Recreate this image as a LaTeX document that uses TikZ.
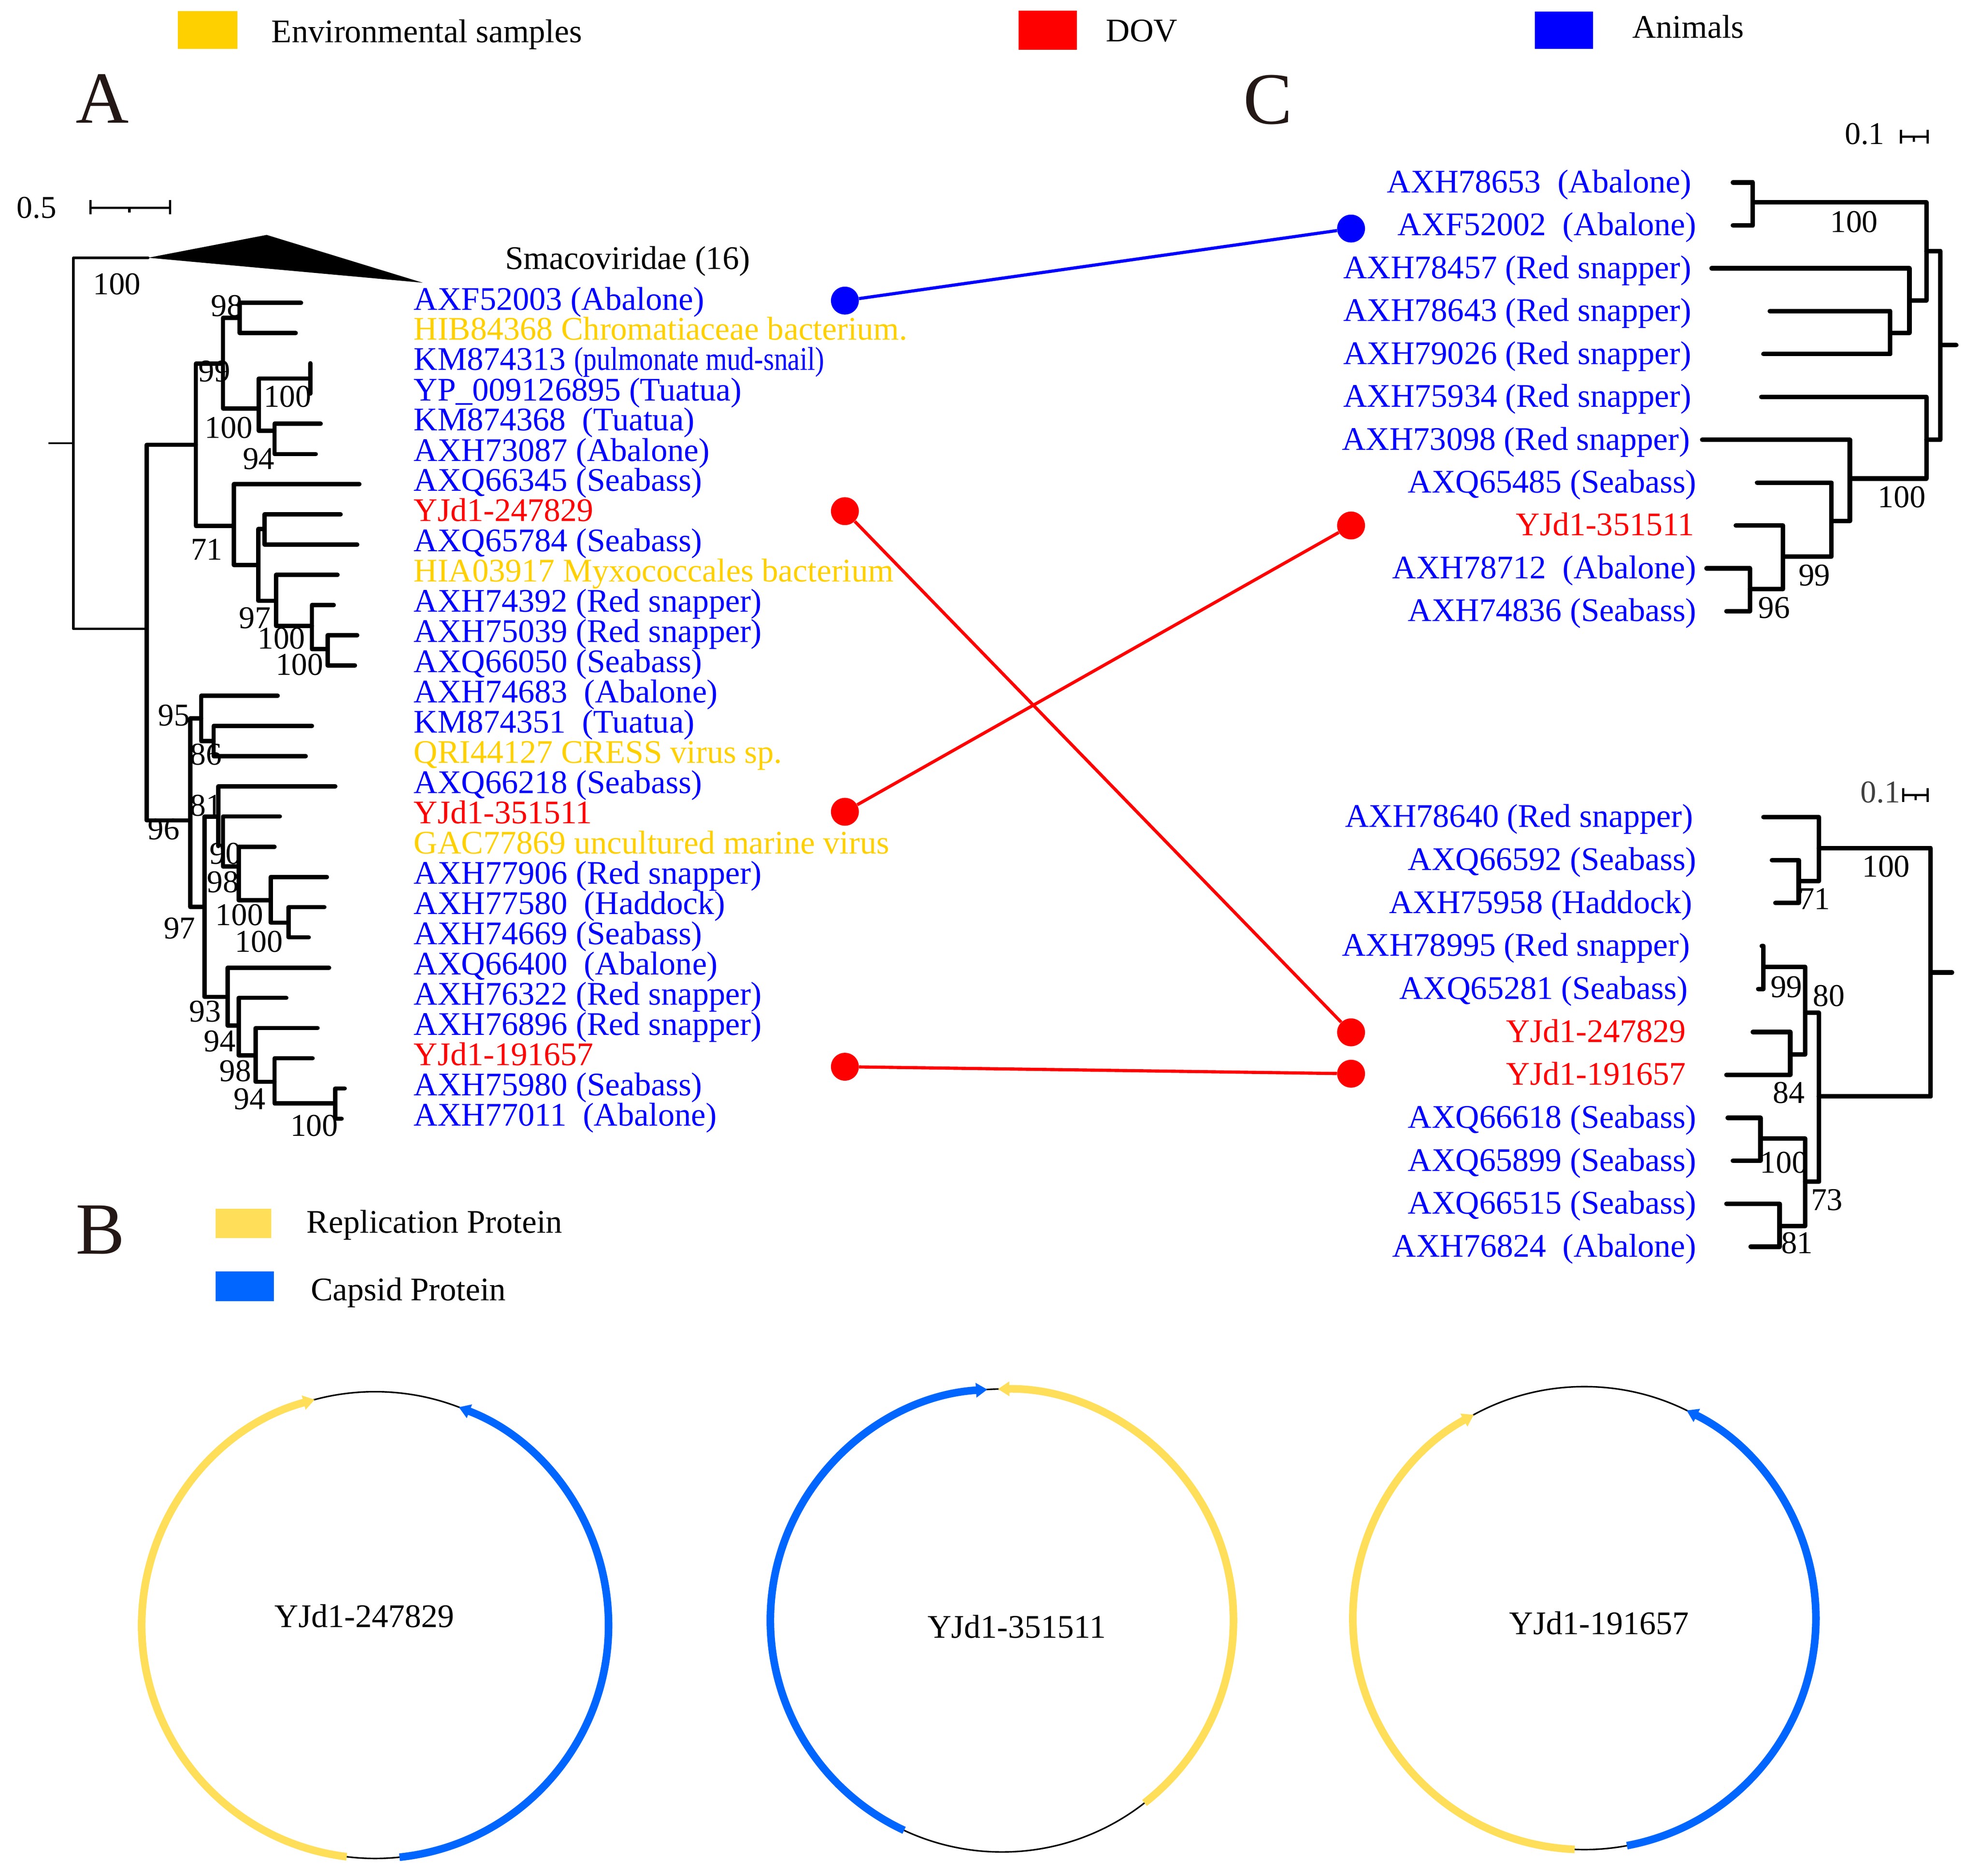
\documentclass[tikz,border=0pt]{standalone}
\usepackage{fontspec}
\setmainfont{Liberation Serif}
\usepackage{graphicx}
\usetikzlibrary{arrows.meta}
\definecolor{envy}{RGB}{255,208,0}
\definecolor{dovr}{RGB}{255,0,0}
\definecolor{anib}{RGB}{0,0,255}
\definecolor{repy}{RGB}{255,222,89}
\definecolor{capb}{RGB}{0,102,255}
\definecolor{panelc}{RGB}{35,24,21}
\begin{document}
\begin{tikzpicture}[x=1pt,y=-1pt,
  br/.style={line width=3.4pt, line cap=round, line join=round},
  brc/.style={line width=3.6pt, line cap=round, line join=round},
  brthin/.style={line width=2pt, line cap=round, line join=round},
  lab/.style={inner sep=0pt, font=\fontsize{26}{31}\selectfont},
  labA/.style={lab, anchor=base west},
  labC/.style={lab, anchor=base east},
  bs/.style={inner sep=0pt, font=\fontsize{25}{30}\selectfont, anchor=center},
  panel/.style={inner sep=0pt, anchor=base west, text=panelc, font=\fontsize{58}{64}\selectfont},
  dot/.style={circle, inner sep=0pt, minimum size=22pt, draw=none},
  link/.style={line width=2.5pt},
  gene/.style={line width=6pt},
  genearrow/.style={gene, -{Triangle[length=9pt,width=11pt]}},
  genome/.style={line width=1.2pt},
  sbar/.style={line width=1.8pt}
]
\fill[white] (0,0) rectangle (1560,1479);
\useasboundingbox (0,0) rectangle (1560,1479);

% ---------- top legend ----------
\fill[envy] (140.3,8.8) rectangle (187.1,38.5);
\node[labA] (legEnv) at (213.9,33.3) {Environmental samples};
\fill[dovr] (803,8.4) rectangle (848.7,39.4);
\node[labA] (legDov) at (871.6,32.9) {DOV};
\fill[anib] (1210,9.1) rectangle (1255.7,38.5);
\node[labA] (legAni) at (1286.5,29.8) {Animals};

% ---------- panel letters ----------
\node[panel] (pA) at (59.7,96.9) {A};
\node[panel] (pC) at (980,97.5) {C};
\node[panel] (pB) at (59.5,988.6) {B};

% ---------- tree A scale bar ----------
\node[bs] (sA) at (28.9,163.8) {0.5};
\draw[sbar] (71.3,163.8) -- (134,163.8);
\draw[sbar] (71.3,157.7) -- (71.3,168.8);
\draw[sbar] (134,157.7) -- (134,168.8);
\draw[sbar] (102,163.8) -- (102,167.5);

% ---------- tree A ----------
\draw[line width=1.5pt] (38.1,349.5) -- (57.8,349.5);
\draw[brthin] (116.8,203.2) -- (57.8,203.2) -- (57.8,495.8) -- (115.6,495.8);
\fill (116.8,203.2) -- (210.2,185.2) -- (333.2,222.9) -- cycle;
\node[lab, anchor=base west] (smaco) at (398.2,212.2) {Smacoviridae (16)};

\draw[br]
 (237.3,238.8) -- (188.9,238.8) -- (188.9,262.6) -- (233.1,262.6)
 (188.9,250.6) -- (175.8,250.6) -- (175.8,322.0) -- (204.1,322.0)
 (244.7,286.4) -- (244.7,310.3)
 (244.7,298.4) -- (204.1,298.4) -- (204.1,339.7) -- (216.4,339.7)
 (252.8,334.1) -- (216.4,334.1) -- (216.4,358.0) -- (248.9,358.0)
 (175.8,286.8) -- (154.4,286.8) -- (154.4,414.7) -- (184.4,414.7)
 (283.3,381.7) -- (184.4,381.7) -- (184.4,445.4) -- (203.6,445.4)
 (208.5,417.1) -- (203.6,417.1) -- (203.6,473.7) -- (217.6,473.7)
 (268.5,405.5) -- (208.5,405.5) -- (208.5,429.4) -- (281.6,429.4)
 (266.1,453.2) -- (217.6,453.2) -- (217.6,493.4) -- (245.9,493.4)
 (263.1,477.0) -- (245.9,477.0) -- (245.9,511.8) -- (258.2,511.8)
 (281.6,500.8) -- (258.2,500.8) -- (258.2,524.6) -- (279.8,524.6)
 (154.4,350.7) -- (115.6,350.7) -- (115.6,646.8) -- (150,646.8)
 (158.6,566.4) -- (150,566.4) -- (150,715.1) -- (161.1,715.1)
 (218.9,548.5) -- (158.6,548.5) -- (158.6,584.3) -- (168.4,584.3)
 (245.9,572.3) -- (168.4,572.3) -- (168.4,596.1) -- (241,596.1)
 (172.1,643.8) -- (161.1,643.8) -- (161.1,786.0) -- (179.5,786.0)
 (264.3,619.9) -- (172.1,619.9) -- (172.1,667)
 (220.6,643.7) -- (175.8,643.7) -- (175.8,683.2) -- (188.1,683.2)
 (216.4,667.6) -- (188.1,667.6) -- (188.1,709.7) -- (213.4,709.7)
 (257.7,691.4) -- (213.4,691.4) -- (213.4,727.4) -- (227.5,727.4)
 (255.7,715.2) -- (227.5,715.2) -- (227.5,739.0) -- (243.4,739.0)
 (259.4,762.9) -- (179.5,762.9) -- (179.5,808.6) -- (188.1,808.6)
 (225.7,786.7) -- (188.1,786.7) -- (188.1,832) -- (201.6,832)
 (250.3,810.5) -- (201.6,810.5) -- (201.6,852.9) -- (216.4,852.9)
 (246.4,834.3) -- (216.4,834.3) -- (216.4,870.0) -- (264.3,870.0)
 (271.7,858.1) -- (264.3,858.1) -- (264.3,882.0) -- (269.3,882.0);

% bootstrap A
\node[bs] (ba1) at (92.2,224.1) {100};
\node[bs] (ba2) at (178.9,241.3) {98};
\node[bs] (ba3) at (169.1,292.9) {99};
\node[bs] (ba4) at (226.6,312.6) {100};
\node[bs] (ba5) at (180.3,337.2) {100};
\node[bs] (ba6) at (203.9,361.8) {94};
\node[bs] (ba7) at (162.9,433.1) {71};
\node[bs] (ba8) at (201.0,487.2) {97};
\node[bs] (ba9) at (221.9,503.4) {100};
\node[bs] (ba10) at (236.1,524.0) {100};
\node[bs] (ba11) at (137.1,563.9) {95};
\node[bs] (ba12) at (162.3,594.7) {86};
\node[bs] (ba13) at (129.1,653.7) {96};
\node[bs] (ba14) at (162.3,635.2) {81};
\node[bs] (ba15) at (177.7,672.9) {90};
\node[bs] (ba16) at (175.6,695.5) {98};
\node[bs] (ba17) at (141.5,731.9) {97};
\node[bs] (ba18) at (188.7,721.3) {100};
\node[bs] (ba19) at (204.1,742.2) {100};
\node[bs] (ba20) at (161.7,797.5) {93};
\node[bs] (ba21) at (173.2,820.9) {94};
\node[bs] (ba22) at (185.5,844.2) {98};
\node[bs] (ba23) at (196.7,866.4) {94};
\node[bs] (ba24) at (247.7,887.3) {100};

% labels A
\node[labA, text=anib] (a1) at (326,244.3) {AXF52003 (Abalone)};
\node[labA, text=envy] (a2) at (326,268.1) {HIB84368 Chromatiaceae bacterium.};
\node[labA, text=anib] (a3) at (326,291.9) {KM874313 \scalebox{0.83}[1]{(pulmonate mud-snail)}};
\node[labA, text=anib] (a4) at (326,315.8) {YP\_009126895 (Tuatua)};
\node[labA, text=anib] (a5) at (326,339.6) {KM874368~ (Tuatua)};
\node[labA, text=anib] (a6) at (326,363.5) {AXH73087 (Abalone)};
\node[labA, text=anib] (a7) at (326,387.2) {AXQ66345 (Seabass)};
\node[labA, text=dovr] (a8) at (326,411.0) {YJd1-247829};
\node[labA, text=anib] (a9) at (326,434.9) {AXQ65784 (Seabass)};
\node[labA, text=envy] (a10) at (326,458.7) {HIA03917 Myxococcales bacterium};
\node[labA, text=anib] (a11) at (326,482.5) {AXH74392 (Red snapper)};
\node[labA, text=anib] (a12) at (326,506.3) {AXH75039 (Red snapper)};
\node[labA, text=anib] (a13) at (326,530.1) {AXQ66050 (Seabass)};
\node[labA, text=anib] (a14) at (326,554.0) {AXH74683~ (Abalone)};
\node[labA, text=anib] (a15) at (326,577.8) {KM874351~ (Tuatua)};
\node[labA, text=envy] (a16) at (326,601.6) {QRI44127 CRESS virus sp.};
\node[labA, text=anib] (a17) at (326,625.4) {AXQ66218 (Seabass)};
\node[labA, text=dovr] (a18) at (326,649.2) {YJd1-351511};
\node[labA, text=envy] (a19) at (326,673.1) {GAC77869 uncultured marine virus};
\node[labA, text=anib] (a20) at (326,696.9) {AXH77906 (Red snapper)};
\node[labA, text=anib] (a21) at (326,720.7) {AXH77580~ (Haddock)};
\node[labA, text=anib] (a22) at (326,744.5) {AXH74669 (Seabass)};
\node[labA, text=anib] (a23) at (326,768.4) {AXQ66400~ (Abalone)};
\node[labA, text=anib] (a24) at (326,792.2) {AXH76322 (Red snapper)};
\node[labA, text=anib] (a25) at (326,816.0) {AXH76896 (Red snapper)};
\node[labA, text=dovr] (a26) at (326,839.8) {YJd1-191657};
\node[labA, text=anib] (a27) at (326,863.6) {AXH75980 (Seabass)};
\node[labA, text=anib] (a28) at (326,887.5) {AXH77011~ (Abalone)};

% ---------- tree C top ----------
\node[bs] (sC1) at (1469.9,105.6) {0.1};
\draw[sbar] (1498.4,107.7) -- (1519.5,107.7);
\draw[sbar] (1498.4,102.4) -- (1498.4,113.1);
\draw[sbar] (1519.5,102.4) -- (1519.5,113.1);
\draw[sbar] (1508.5,107.7) -- (1508.5,111.7);

\draw[brc]
 (1366,143.9) -- (1381.7,143.9) -- (1381.7,177.7) -- (1366,177.7)
 (1381.7,159.5) -- (1518.5,159.5) -- (1518.5,237.0) -- (1505.1,237.0)
 (1349.2,211.5) -- (1505.1,211.5) -- (1505.1,262.5) -- (1490,262.5)
 (1395.1,245.3) -- (1490,245.3) -- (1490,279.1) -- (1390.1,279.1)
 (1518.5,198.1) -- (1529.6,198.1) -- (1529.6,346.7) -- (1518.5,346.7)
 (1529.6,272.1) -- (1542,272.1)
 (1388.4,312.9) -- (1518.5,312.9) -- (1518.5,377.3) -- (1458.2,377.3)
 (1341.8,346.7) -- (1458.2,346.7) -- (1458.2,410.8) -- (1443.7,410.8)
 (1385.1,380.5) -- (1443.7,380.5) -- (1443.7,438.9) -- (1405.5,438.9)
 (1368.3,414.3) -- (1405.5,414.3) -- (1405.5,464.4) -- (1379.4,464.4)
 (1345.2,448.1) -- (1379.4,448.1) -- (1379.4,481.9) -- (1360.9,481.9);

\node[bs] (bc1) at (1461.5,174.8) {100};
\node[bs] (bc2) at (1499.1,392.0) {100};
\node[bs] (bc3) at (1430.3,453.7) {99};
\node[bs] (bc4) at (1398.5,479.2) {96};

\node[labC, text=anib] (c1) at (1333.4,151.9) {AXH78653~ (Abalone)};
\node[labC, text=anib] (c2) at (1337.5,185.7) {AXF52002~ (Abalone)};
\node[labC, text=anib] (c3) at (1333.4,219.5) {AXH78457 (Red snapper)};
\node[labC, text=anib] (c4) at (1333.4,253.3) {AXH78643 (Red snapper)};
\node[labC, text=anib] (c5) at (1333.4,287.1) {AXH79026 (Red snapper)};
\node[labC, text=anib] (c6) at (1333.4,320.9) {AXH75934 (Red snapper)};
\node[labC, text=anib] (c7) at (1332.4,354.7) {AXH73098 (Red snapper)};
\node[labC, text=anib] (c8) at (1337.5,388.5) {AXQ65485 (Seabass)};
\node[labC, text=dovr] (c9) at (1335.8,422.3) {YJd1-351511};
\node[labC, text=anib] (c10) at (1337.5,456.1) {AXH78712~ (Abalone)};
\node[labC, text=anib] (c11) at (1337.5,489.9) {AXH74836 (Seabass)};

% ---------- tree C bottom ----------
\node[bs, text=black!75] (sC2) at (1482.3,624.6) {0.1};
\draw[sbar] (1500.1,626.7) -- (1519.5,626.7);
\draw[sbar] (1500.1,621.4) -- (1500.1,632.1);
\draw[sbar] (1519.5,621.4) -- (1519.5,632.1);
\draw[sbar] (1510.1,626.7) -- (1510.1,630.7);

\draw[brc]
 (1390.1,644.2) -- (1433.7,644.2) -- (1433.7,694.6) -- (1417.9,694.6)
 (1396.8,678.1) -- (1417.9,678.1) -- (1417.9,711.9) -- (1399.5,711.9)
 (1433.7,668.8) -- (1521.9,668.8) -- (1521.9,864.4) -- (1433.7,864.4)
 (1521.9,766.7) -- (1538.7,766.7)
 (1422.9,798.4) -- (1433.7,798.4) -- (1433.7,931.7) -- (1422.9,931.7)
 (1390.1,762.2) -- (1422.9,762.2) -- (1422.9,831.4) -- (1411.2,831.4)
 (1388.8,745.8) -- (1390.1,745.8) -- (1390.1,779.7) -- (1386,779.7)
 (1381.7,813.6) -- (1411.2,813.6) -- (1411.2,847.4) -- (1360.9,847.4)
 (1387.7,897.6) -- (1422.9,897.6) -- (1422.9,966.6) -- (1402.8,966.6)
 (1361.9,881.3) -- (1387.7,881.3) -- (1387.7,915.2) -- (1366,915.2)
 (1360.9,949.0) -- (1402.8,949.0) -- (1402.8,982.9) -- (1380,982.9);

\node[bs] (bd1) at (1430.3,708.5) {71};
\node[bs] (bd2) at (1486.7,683.1) {100};
\node[bs] (bd3) at (1441.7,785.0) {80};
\node[bs] (bd4) at (1408.2,778.3) {99};
\node[bs] (bd5) at (1410.2,861.4) {84};
\node[bs] (bd6) at (1406.2,916.4) {100};
\node[bs] (bd7) at (1440.0,945.9) {73};
\node[bs] (bd8) at (1416.6,980.0) {81};

\node[labC, text=anib] (d1) at (1334.8,652.2) {AXH78640 (Red snapper)};
\node[labC, text=anib] (d2) at (1337.5,686.1) {AXQ66592 (Seabass)};
\node[labC, text=anib] (d3) at (1334.1,719.9) {AXH75958 (Haddock)};
\node[labC, text=anib] (d4) at (1332.4,753.8) {AXH78995 (Red snapper)};
\node[labC, text=anib] (d5) at (1330.7,787.7) {AXQ65281 (Seabass)};
\node[labC, text=dovr] (d6) at (1329.1,821.6) {YJd1-247829};
\node[labC, text=dovr] (d7) at (1329.1,855.4) {YJd1-191657};
\node[labC, text=anib] (d8) at (1337.5,889.3) {AXQ66618 (Seabass)};
\node[labC, text=anib] (d9) at (1337.5,923.2) {AXQ65899 (Seabass)};
\node[labC, text=anib] (d10) at (1337.5,957.0) {AXQ66515 (Seabass)};
\node[labC, text=anib] (d11) at (1337.5,990.9) {AXH76824~ (Abalone)};

% ---------- dots and links ----------
\node[dot, fill=anib] (pa1) at (666,237) {};
\node[dot, fill=dovr] (pa2) at (666,403) {};
\node[dot, fill=dovr] (pa3) at (666,640) {};
\node[dot, fill=dovr] (pa4) at (666,841) {};
\node[dot, fill=anib] (pc1) at (1065,180.2) {};
\node[dot, fill=dovr] (pc2) at (1065,414.3) {};
\node[dot, fill=dovr] (pc3) at (1065,813.9) {};
\node[dot, fill=dovr] (pc4) at (1065,846.5) {};
\draw[link, anib] (pa1) -- (pc1);
\draw[link, dovr] (pa2) -- (pc3);
\draw[link, dovr] (pa3) -- (pc2);
\draw[link, dovr] (pa4) -- (pc4);

% ---------- legend B ----------
\fill[repy] (170,953) rectangle (213.8,976);
\node[labA] (legRep) at (241.6,972) {Replication Protein};
\fill[capb] (170,1002.2) rectangle (216,1025.7);
\node[labA] (legCap) at (244.8,1025.5) {Capsid Protein};

% ---------- genome circles ----------
% circle 1
\coordinate (g1) at (295.7,1281.2);
\draw[genome] (g1) circle[radius=184];
\draw[genearrow, repy] ([shift={(-263:184)}]g1) arc[start angle=-263, end angle=-105, radius=184];
\draw[genearrow, capb] ([shift={(84:184)}]g1) arc[start angle=84, end angle=-69, radius=184];
\node[labA] (t1) at (216.3,1283) {YJd1-247829};
% circle 2
\coordinate (g2) at (789.8,1277.6);
\draw[genome] (g2) circle[radius=182.5];
\draw[genearrow, capb] ([shift={(-245:182.5)}]g2) arc[start angle=-245, end angle=-93.6, radius=182.5];
\draw[genearrow, repy] ([shift={(52:182.5)}]g2) arc[start angle=52, end angle=-91, radius=182.5];
\node[labA] (t2) at (731,1291.4) {YJd1-351511};
% circle 3
\coordinate (g3) at (1248.9,1275.7);
\draw[genome] (g3) circle[radius=182.5];
\draw[genearrow, repy] ([shift={(-267.6:182.5)}]g3) arc[start angle=-267.6, end angle=-118.5, radius=182.5];
\draw[genearrow, capb] ([shift={(79.4:182.5)}]g3) arc[start angle=79.4, end angle=-63.8, radius=182.5];
\node[labA] (t3) at (1189.6,1288.7) {YJd1-191657};
\end{tikzpicture}
\end{document}
